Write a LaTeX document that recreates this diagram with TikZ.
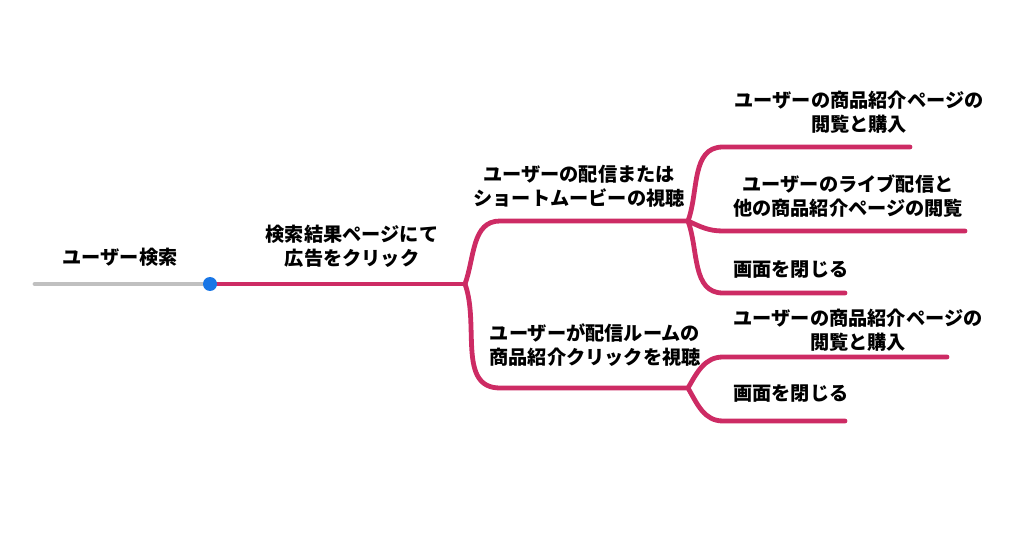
\documentclass[tikz,border=0pt]{standalone}
\usepackage{fontspec}
\setmainfont{Noto Sans CJK JP}
\usepackage{tikz}

\definecolor{branchpink}{RGB}{205,43,100}
\definecolor{stemgray}{RGB}{192,192,192}
\definecolor{dotblue}{RGB}{25,118,230}

\begin{document}
\begin{tikzpicture}[
      x=0.75pt, y=-0.75pt,
      every node/.style={font=\fontsize{14.4}{18}\selectfont\bfseries, align=center, inner sep=0pt},
      branch/.style={draw=branchpink, line width=3.6pt, line cap=round, line join=round},
      stem/.style={draw=stemgray, line width=3.6pt, line cap=round}
    ]
      \useasboundingbox (0,0) rectangle (1024,552);
      % forks and line ends
      \coordinate (root) at (35,284);
      \coordinate (hub) at (210,284);
      \coordinate (fork) at (465,284);
      \coordinate (watchS) at (500,221);
      \coordinate (watchE) at (688,221);
      \coordinate (roomS) at (500,388);
      \coordinate (roomE) at (688,388);
      \coordinate (buyAS) at (723,147);
      \coordinate (buyAE) at (910,147);
      \coordinate (liveS) at (723,231);
      \coordinate (liveE) at (965,231);
      \coordinate (closeAS) at (723,293);
      \coordinate (closeAE) at (845,293);
      \coordinate (buyBS) at (723,357);
      \coordinate (buyBE) at (947,357);
      \coordinate (closeBS) at (723,421);
      \coordinate (closeBE) at (845,421);

      \draw[stem] (root) -- (hub);
      \draw[branch] (hub) -- (fork);
      \draw[branch] (fork) to[out=70, in=180] (watchS) -- (watchE);
      \draw[branch] (fork) to[out=-70, in=180] (roomS) -- (roomE);
      \draw[branch] (watchE) to[out=70, in=180] (buyAS) -- (buyAE);
      \draw[branch] (watchE) to[out=-25, in=180] (liveS) -- (liveE);
      \draw[branch] (watchE) to[out=-70, in=180] (closeAS) -- (closeAE);
      \draw[branch] (roomE) to[out=60, in=180] (buyBS) -- (buyBE);
      \draw[branch] (roomE) to[out=-60, in=180] (closeBS) -- (closeBE);
      \node (dot) [circle, fill=dotblue, minimum size=10.5pt] at (hub) {};

      % labels
      \node (search) at (120,257) {ユーザー検索};
      \node (ad) at (352,246) {検索結果ページにて\\広告をクリック};
      \node (watch) at (579,186) {ユーザーの配信または\\ショートムービーの視聴};
      \node (room) at (595,345) {ユーザーが配信ルームの\\商品紹介クリックを視聴};
      \node (buyA) at (859,112) {ユーザーの商品紹介ページの\\閲覧と購入};
      \node (live) at (848,196) {ユーザーのライブ配信と\\他の商品紹介ページの閲覧};
      \node (closeA) [anchor=west] at (733,270) {画面を閉じる};
      \node (buyB) at (858,330) {ユーザーの商品紹介ページの\\閲覧と購入};
      \node (closeB) [anchor=west] at (733,394) {画面を閉じる};
    \end{tikzpicture}
\end{document}
